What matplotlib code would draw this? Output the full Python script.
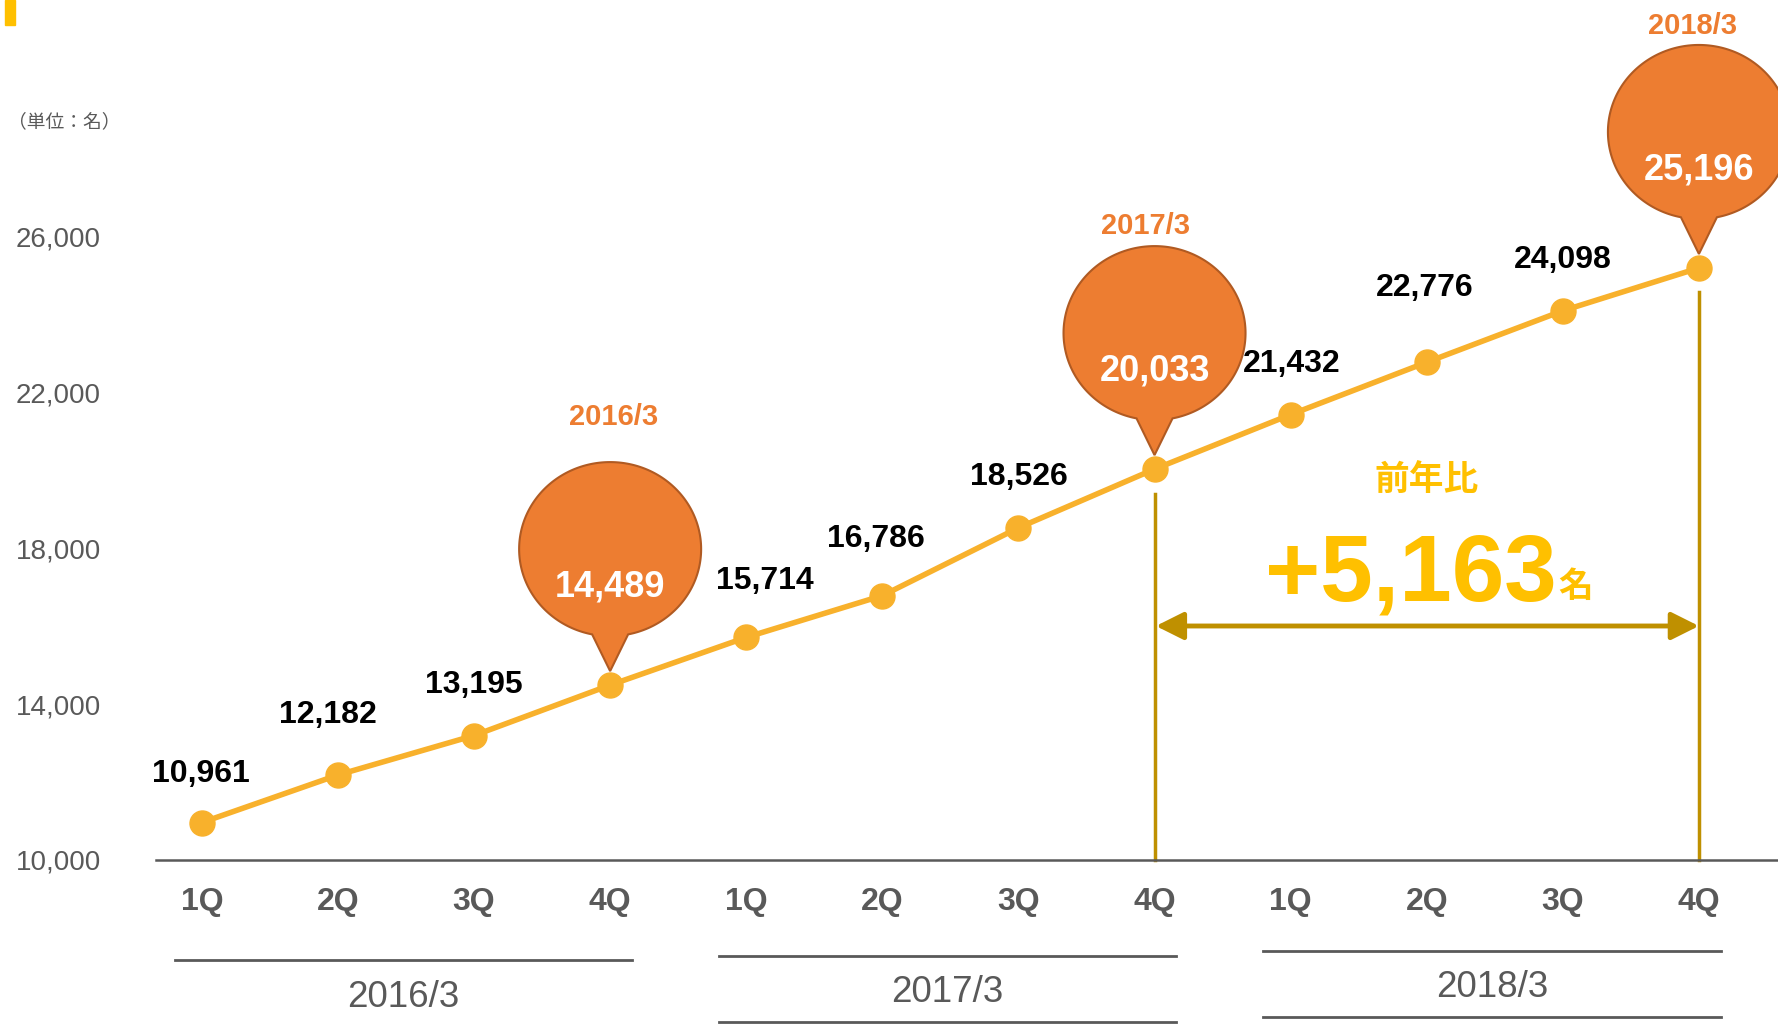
import numpy as np
import matplotlib
matplotlib.use("Agg")
import matplotlib.pyplot as plt
from matplotlib.patches import Polygon, Rectangle, FancyArrowPatch
from matplotlib.transforms import ScaledTranslation

plt.rcParams['font.family'] = ['Liberation Sans', 'Noto Sans CJK JP']

# data
quarters = ["1Q", "2Q", "3Q", "4Q"] * 3
fiscal_years = ["2016/3", "2017/3", "2018/3"]
employees = [10961, 12182, 13195, 14489, 15714, 16786, 18526, 20033,
             21432, 22776, 24098, 25196]
y_ticks = [10000, 14000, 18000, 22000, 26000]
unit_label = "（単位：名）"
yoy_title = "前年比"
yoy_unit = "名"

# colours
LINE = "#F8B12C"
BALLOON = "#ED7D31"
BALLOON_EDGE = "#B05A22"
GOLD = "#BF9000"
YELLOW = "#FFC000"
GRAY = "#595959"

# label offsets in pixels (dx, dy) for the non-balloon points
label_offsets = {0: (-1, 49), 1: (-10, 60), 2: (0, 51), 4: (19, 56), 5: (-6, 57),
                 6: (0, 51), 8: (1, 51), 9: (-2, 74), 10: (0, 51)}
balloon_idx = [3, 7, 11]
balloon_year_off = [(3, 268), (-9, 243), (-6, 242)]

fig = plt.figure(figsize=(17.78, 10.24), dpi=100)
ax = fig.add_axes([0, 0, 1, 1])
ax.set_xlim(-1.483, 11.581)
ax.set_ylim(5790, 32074)
ax.axis("off")

x = np.arange(len(employees))

# axis line and y labels
ax.plot([-0.335, 11.58], [10000, 10000], color=GRAY, lw=1.8, zorder=2)
for v in y_ticks:
    ax.annotate(f"{v:,}", (-0.741, v), xytext=(0, -3), textcoords="offset pixels",
                ha="right", va="center", fontsize=20, color=GRAY)
fig.text(8 / 1778, 1 - 122 / 1024, unit_label, ha="left", va="center",
         fontsize=13.5, color=GRAY, family=["Noto Sans CJK JP"])

# quarter labels and fiscal year groups
for i, q in enumerate(quarters):
    ax.text(i, 8912, q, ha="center", va="center", fontsize=23,
            fontweight="bold", color=GRAY)
group_top = [7420, 7536, 7654]
group_bottom = [5735, 5850, 5966]
group_text_y = [6460, 6606, 6722]
for g, fy in enumerate(fiscal_years):
    x0, x1 = 4 * g - 0.2, 4 * g + 3.16
    ax.plot([x0, x1], [group_top[g]] * 2, color=GRAY, lw=2)
    ax.plot([x0, x1], [group_bottom[g]] * 2, color=GRAY, lw=2)
    ax.text((x0 + x1) / 2, group_text_y[g], fy, ha="center", va="center",
            fontsize=26.5, color=GRAY)

# main series
ax.plot(x, employees, color=LINE, lw=4, marker="o", ms=18, zorder=3)

for i, (dx, dy) in label_offsets.items():
    ax.annotate(f"{employees[i]:,}", (i, employees[i]), xytext=(dx, dy),
                textcoords="offset pixels", ha="center", va="center",
                fontsize=23, fontweight="bold", color="black")

# balloons: ellipse with a pointed tail, drawn in pixel offsets from the point
rx, ry, cy, half = 91, 87, 136, 18
a0 = -90 + np.degrees(np.arcsin(half / rx))
theta = np.radians(np.linspace(a0, 180 - a0, 300))
outline = np.column_stack([rx * np.cos(theta), cy + ry * np.sin(theta)])
outline = np.vstack([outline, [[0, 14]]])
for k, i in enumerate(balloon_idx):
    trans = ScaledTranslation(i, employees[i], ax.transData)
    ax.add_patch(Polygon(outline, closed=True, fc=BALLOON, ec=BALLOON_EDGE,
                         lw=1.5, transform=trans, zorder=5))
    ax.annotate(f"{employees[i]:,}", (i, employees[i]), xytext=(0, 98),
                textcoords="offset pixels", ha="center", va="center",
                fontsize=26, fontweight="bold", color="white", zorder=6)
    ax.annotate(fiscal_years[k], (i, employees[i]), xytext=balloon_year_off[k],
                textcoords="offset pixels", ha="center", va="center",
                fontsize=21, fontweight="bold", color=BALLOON, zorder=6)

# year-on-year bracket
px_per_unit = ax.transData.transform((0, 1))[1] - ax.transData.transform((0, 0))[1]
gap = 24.5 / px_per_unit
for i in balloon_idx[1:]:
    ax.plot([i, i], [10000, employees[i] - gap], color=GOLD, lw=2.5, zorder=1)

arrow_y = 16006
ax.add_patch(FancyArrowPatch((7.01, arrow_y), (11.0, arrow_y),
                             arrowstyle="<|-|>,head_length=1.2,head_width=0.6",
                             mutation_scale=14, lw=3.5, color=GOLD,
                             shrinkA=0, shrinkB=0, zorder=3))

diff = employees[11] - employees[7]
ax.text(9.0, 19733, yoy_title, ha="center", va="center", fontsize=25,
        fontweight="bold", color=YELLOW, family=["Noto Sans CJK JP"])
ax.text(9.957, 16648, f"+{diff:,}", ha="right", va="baseline", fontsize=68,
        fontweight="bold", color=YELLOW)
ax.text(9.965, 16760, yoy_unit, ha="left", va="baseline", fontsize=25,
        fontweight="bold", color=YELLOW, family=["Noto Sans CJK JP"])

# yellow title marker (title text is cut off in the source)
fig.patches.append(Rectangle((5 / 1778, 1 - 25 / 1024), 10 / 1778, 25 / 1024,
                             transform=fig.transFigure, color=YELLOW))

fig.savefig("out.png", dpi=100)
